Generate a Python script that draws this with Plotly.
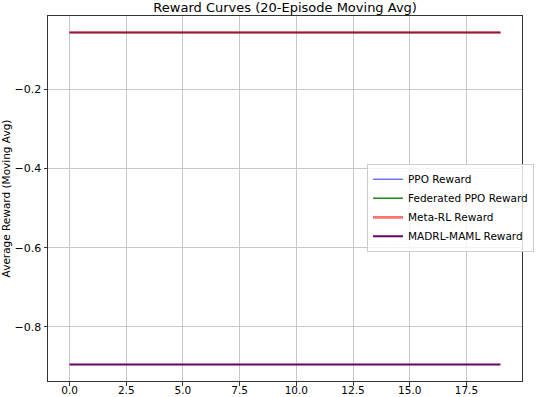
import plotly.graph_objects as go

episodes = list(range(20))
ppo_reward = [-0.057] * 20
fed_ppo_reward = [-0.057] * 20
meta_rl_reward = [-0.057] * 20
madrl_maml_reward = [-0.8945] * 20

# name, values, color, opacity, width, legend rank
series = [
    ("Federated PPO Reward", fed_ppo_reward, "#008000", 0.9, 1.5, 2),
    ("PPO Reward", ppo_reward, "#0000ff", 0.55, 1.5, 1),
    ("Meta-RL Reward", meta_rl_reward, "#ff0000", 0.55, 2.6, 3),
    ("MADRL-MAML Reward", madrl_maml_reward, "#6a006a", 1.0, 2.0, 4),
]

fig = go.Figure()
for name, vals, color, op, w, rank in series:
    fig.add_trace(go.Scatter(x=episodes, y=vals, mode="lines", name=name, legendrank=rank,
                             line=dict(color=color, width=w), opacity=op))

font = "DejaVu Sans, sans-serif"
fig.update_layout(
    width=538, height=397,
    margin=dict(l=48, r=16, t=16, b=16, autoexpand=False),
    paper_bgcolor="white", plot_bgcolor="white",
    font=dict(family=font, size=11, color="black"),
    title=dict(text="Reward Curves (20-Episode Moving Avg)", x=0.53, xanchor="center",
               y=1 - 7.5/397, yanchor="middle", font=dict(size=13)),
    legend=dict(x=0.673, y=0.595, xanchor="left", yanchor="top",
                bgcolor="rgba(255,255,255,0.8)", bordercolor="#cccccc", borderwidth=1,
                font=dict(size=10.5), tracegroupgap=0),
    showlegend=True,
)
fig.update_xaxes(range=[-0.95, 19.95], tickvals=[0, 2.5, 5, 7.5, 10, 12.5, 15, 17.5],
                 ticktext=["0.0", "2.5", "5.0", "7.5", "10.0", "12.5", "15.0", "17.5"],
                 automargin=False, tickfont=dict(size=10.5), ticklabelstandoff=-4,
                 showgrid=True, gridcolor="#c8c8c8", gridwidth=1,
                 showline=True, linecolor="#333333", linewidth=1, mirror=True,
                 ticks="outside", ticklen=3.5, tickcolor="#333333", zeroline=False)
fig.update_yaxes(range=[-0.9363, -0.0152], tickvals=[-0.2, -0.4, -0.6, -0.8],
                 ticktext=["\u22120.2", "\u22120.4", "\u22120.6", "\u22120.8"],
                 automargin=False, tickfont=dict(size=11),
                 title=dict(text="Average Reward (Moving Avg)", standoff=4, font=dict(size=10.5)),
                 showgrid=True, gridcolor="#c8c8c8", gridwidth=1,
                 showline=True, linecolor="#333333", linewidth=1, mirror=True,
                 ticks="outside", ticklen=3.5, tickcolor="#333333", zeroline=False)

fig.write_html("out.html", config={"displayModeBar": False},
               post_script="document.body.style.margin='0';document.body.style.overflow='hidden';")
